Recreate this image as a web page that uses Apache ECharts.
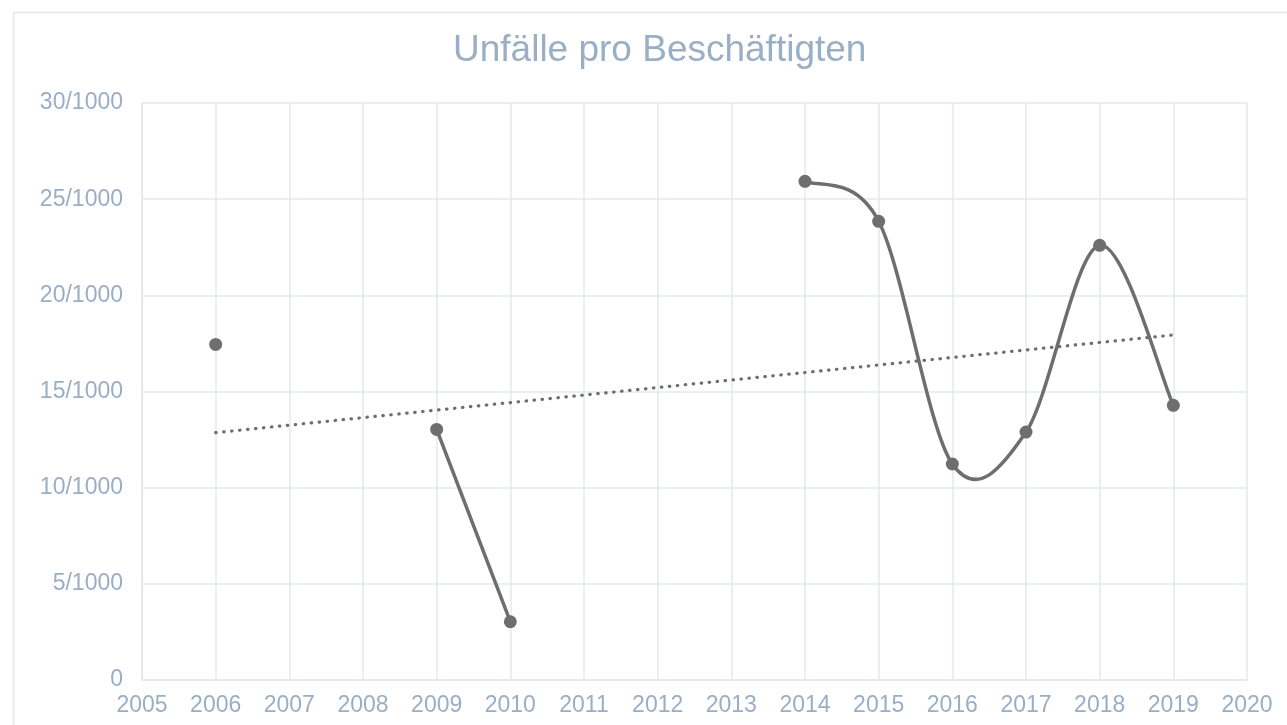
<!DOCTYPE html>
<html>
<head>
<meta charset="utf-8">
<title>Unfälle pro Beschäftigten</title>
<script src="https://cdn.jsdelivr.net/npm/echarts@6/dist/echarts.min.js"></script>
<style>
  html, body { margin: 0; padding: 0; background: #fff; }
  #chart { width: 1287px; height: 725px; }
</style>
</head>
<body>
<div id="chart"></div>
<script>
// Jahre und Werte (Unfälle je 1000 Beschäftigte), Lücken = null
const years = [2006, 2007, 2008, 2009, 2010, 2011, 2012, 2013, 2014, 2015, 2016, 2017, 2018, 2019];
const values = [17.45, null, null, 13.03, 3.03, null, null, null, 25.93, 23.85, 11.23, 12.89, 22.6, 14.28];

// lineare Trendlinie (Anfang / Ende)
const trendYears = [2006, 2019];
const trendValues = [12.86, 17.94];

const yTicks = [0, 5, 10, 15, 20, 25, 30];

const textColor = '#9aaec6';
const gridColor = '#e5e9ef';
const lineColor = '#6e6e6e';
const fontFamily = 'Liberation Sans, Arial, sans-serif';

const hasValue = i => i >= 0 && i < values.length && values[i] != null;

// geglättete Linie wie in Excel (Catmull-Rom als Bezier), Segment i -> i+1
function renderSmooth(params, api) {
  const i = params.dataIndex;
  if (!hasValue(i) || !hasValue(i + 1)) return null;
  const pt = j => api.coord([years[j], values[j]]);
  const p1 = pt(i);
  const p2 = pt(i + 1);
  const p0 = hasValue(i - 1) ? pt(i - 1) : p1;
  const p3 = hasValue(i + 2) ? pt(i + 2) : p2;
  return {
    type: 'bezierCurve',
    shape: {
      x1: p1[0], y1: p1[1],
      x2: p2[0], y2: p2[1],
      cpx1: p1[0] + (p2[0] - p0[0]) / 6,
      cpy1: p1[1] + (p2[1] - p0[1]) / 6,
      cpx2: p2[0] - (p3[0] - p1[0]) / 6,
      cpy2: p2[1] - (p3[1] - p1[1]) / 6
    },
    style: { stroke: lineColor, lineWidth: 3.5, fill: null, lineCap: 'round' },
    silent: true
  };
}

const chart = echarts.init(document.getElementById('chart'));

chart.setOption({
  animation: false,
  graphic: [
    {
      type: 'rect',
      shape: { x: 13.5, y: 12.5, width: 1400, height: 800 },
      style: { fill: 'none', stroke: '#e3e7ec', lineWidth: 1.5 },
      silent: true
    }
  ],
  title: {
    text: 'Unfälle pro Beschäftigten',
    left: 448,
    top: 27,
    textStyle: {
      color: textColor,
      fontFamily: fontFamily,
      fontSize: 37,
      fontWeight: 'normal'
    }
  },
  grid: {
    left: 142,
    right: 40,
    top: 103,
    bottom: 45
  },
  xAxis: {
    type: 'value',
    min: 2005,
    max: 2020,
    interval: 1,
    axisLine: { show: true, lineStyle: { color: gridColor, width: 1.5 } },
    axisTick: { show: false },
    splitLine: { show: true, lineStyle: { color: gridColor, width: 1.5 } },
    axisLabel: {
      color: textColor,
      fontFamily: fontFamily,
      fontSize: 23,
      margin: 14,
      formatter: v => String(v)
    }
  },
  yAxis: {
    type: 'value',
    min: yTicks[0],
    max: yTicks[yTicks.length - 1],
    interval: 5,
    axisLine: { show: true, lineStyle: { color: gridColor, width: 1.5 } },
    axisTick: { show: false },
    splitLine: { show: true, lineStyle: { color: gridColor, width: 1.5 } },
    axisLabel: {
      color: textColor,
      fontFamily: fontFamily,
      fontSize: 23,
      margin: 19,
      formatter: v => (v === 0 ? '0' : v + '/1000')
    }
  },
  series: [
    {
      name: 'Trend',
      type: 'line',
      data: trendYears.map((y, i) => [y, trendValues[i]]),
      symbol: 'none',
      silent: true,
      lineStyle: { color: lineColor, width: 3.2, type: [0.5, 7.5], cap: 'round' },
      z: 2
    },
    {
      name: 'Linie',
      type: 'custom',
      renderItem: renderSmooth,
      data: years.map((y, i) => [y, values[i]]),
      encode: { x: 0, y: 1 },
      z: 3
    },
    {
      name: 'Unfälle pro Beschäftigten',
      type: 'scatter',
      data: years.map((y, i) => [y, values[i]]),
      symbol: 'circle',
      symbolSize: 13,
      itemStyle: { color: lineColor, opacity: 1 },
      z: 4
    }
  ]
});
</script>
</body>
</html>
